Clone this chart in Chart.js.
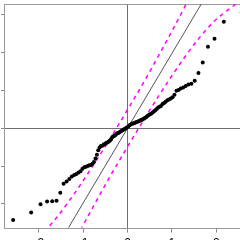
<!DOCTYPE html>
<html>
<head>
<meta charset="utf-8">
<script src="https://cdn.jsdelivr.net/npm/chart.js@4.4.0/dist/chart.umd.min.js"></script>
<style>
  html, body { margin: 0; padding: 0; width: 240px; height: 240px; overflow: hidden; background: #fff; }
  canvas { display: block; }
</style>
</head>
<body>
<canvas id="qq-chart" width="255" height="255"></canvas>
<script>
// normal quantiles (x) and sorted sample (y)
const theoretical = [
  -2.576, -2.170, -1.960, -1.812, -1.695, -1.598, -1.514, -1.440, -1.372, -1.311,
  -1.254, -1.200, -1.150, -1.103, -1.058, -1.015, -0.974, -0.935, -0.896, -0.860,
  -0.824, -0.789, -0.755, -0.722, -0.690, -0.659, -0.628, -0.598, -0.568, -0.539,
  -0.510, -0.482, -0.454, -0.426, -0.399, -0.372, -0.345, -0.319, -0.292, -0.266,
  -0.240, -0.215, -0.189, -0.164, -0.138, -0.113, -0.088, -0.063, -0.038, -0.013,
  0.013, 0.038, 0.063, 0.088, 0.113, 0.138, 0.164, 0.189, 0.215, 0.240,
  0.266, 0.292, 0.319, 0.345, 0.372, 0.399, 0.426, 0.454, 0.482, 0.510,
  0.539, 0.568, 0.598, 0.628, 0.659, 0.690, 0.722, 0.755, 0.789, 0.824,
  0.860, 0.896, 0.935, 0.974, 1.015, 1.058, 1.103, 1.150, 1.200, 1.254,
  1.311, 1.372, 1.440, 1.514, 1.598, 1.695, 1.812, 1.960, 2.170, 2.576,
];
const sample = [
  -2.43, -2.23, -2.01, -1.94, -1.93, -1.92, -1.71, -1.47, -1.41, -1.34,
  -1.28, -1.24, -1.21, -1.17, -1.14, -1.07, -1.03, -1.02, -1.0, -0.98,
  -0.97, -0.94, -0.89, -0.8, -0.7, -0.58, -0.51, -0.47, -0.46, -0.43,
  -0.42, -0.39, -0.38, -0.36, -0.33, -0.3, -0.24, -0.21, -0.2, -0.17,
  -0.14, -0.13, -0.11, -0.09, -0.07, -0.05, -0.03, -0.02, 0.0, 0.02,
  0.04, 0.07, 0.09, 0.11, 0.12, 0.13, 0.14, 0.16, 0.17, 0.18,
  0.19, 0.21, 0.22, 0.24, 0.26, 0.28, 0.3, 0.33, 0.35, 0.37,
  0.39, 0.42, 0.45, 0.48, 0.51, 0.55, 0.57, 0.59, 0.64, 0.67,
  0.7, 0.74, 0.76, 0.79, 0.82, 0.89, 0.99, 1.01, 1.05, 1.08,
  1.12, 1.16, 1.18, 1.26, 1.46, 1.74, 2.16, 2.37, 2.82, 3.07,
];

// confidence envelope
const bandX = [-2.576, -2.17, -1.96, -1.6, -1.3, -1.0, -0.7, -0.4, 0, 0.4, 0.7, 1.0, 1.3, 1.6, 1.96, 2.17, 2.576];
const bandUpper = [-3.4, -3.05, -2.84, -2.37, -1.9, -1.39, -0.85, -0.29, 0.49, 1.29, 1.92, 2.57, 3.24, 3.97, 4.92, 5.54, 6.99];
const bandLower = [-6.99, -5.54, -4.92, -3.97, -3.24, -2.57, -1.92, -1.29, -0.49, 0.29, 0.85, 1.39, 1.9, 2.37, 2.84, 3.05, 3.4];

// reference line
const refIntercept = 0;
const refSlope = 1.98;

const xTickValues = [-2, -1, 0, 1, 2];
const xTickLabels = ["-2", "-1", "0", "1", "2"];
const yTickValues = [-2, -1, 0, 1, 2, 3];

const toPoints = (xs, ys) => xs.map((x, i) => ({ x, y: ys[i] }));
const zeroOnly = (ctx) => (ctx.tick && ctx.tick.value === 0 ? "#6e6e6e" : "rgba(0,0,0,0)");

// box around the plot region
const frame = {
  id: "frame",
  beforeDatasetsDraw(chart) {
    const { ctx, chartArea: a } = chart;
    ctx.save();
    ctx.strokeStyle = "#9a9a9a";
    ctx.lineWidth = 1;
    ctx.strokeRect(Math.round(a.left) + 0.5, Math.round(a.top) + 0.5,
      Math.round(a.right - a.left), Math.round(a.bottom - a.top));
    ctx.restore();
  },
};

const dashed = {
  showLine: true,
  borderColor: "#ff00ff",
  borderWidth: 1.5,
  borderDash: [4, 4],
  pointRadius: 0,
  cubicInterpolationMode: "monotone",
  order: 2,
};

new Chart(document.getElementById("qq-chart"), {
  type: "scatter",
  data: {
    datasets: [
      {
        label: "sample",
        data: toPoints(theoretical, sample),
        backgroundColor: "#000",
        borderWidth: 0,
        pointRadius: 2,
        order: 0,
      },
      {
        label: "line",
        data: [-3, 3].map((x) => ({ x, y: refIntercept + refSlope * x })),
        showLine: true,
        borderColor: "#555",
        borderWidth: 1,
        pointRadius: 0,
        order: 1,
      },
      { label: "upper", data: toPoints(bandX, bandUpper), ...dashed },
      { label: "lower", data: toPoints(bandX, bandLower), ...dashed },
    ],
  },
  options: {
    responsive: false,
    animation: false,
    layout: { padding: { left: 0, right: 0, top: 2, bottom: 0 } },
    plugins: {
      legend: { display: false },
      tooltip: { enabled: false },
    },
    scales: {
      x: {
        type: "linear",
        min: -2.782,
        max: 2.782,
        afterBuildTicks: (scale) => {
          scale.ticks = xTickValues.map((value) => ({ value }));
        },
        border: { display: false },
        grid: { color: zeroOnly, tickColor: "#8a8a8a", tickLength: 5, lineWidth: 1 },
        ticks: {
          color: "#000",
          padding: 4,
          maxRotation: 0,
          callback: (value) => xTickLabels[xTickValues.indexOf(value)],
          font: { family: "'Liberation Sans', Arial, sans-serif", size: 12 },
        },
      },
      y: {
        type: "linear",
        min: -2.63,
        max: 3.29,
        afterBuildTicks: (scale) => {
          scale.ticks = yTickValues.map((value) => ({ value }));
        },
        border: { display: false },
        grid: { color: zeroOnly, tickColor: "#8a8a8a", tickLength: 3, lineWidth: 1 },
        ticks: { display: false },
      },
    },
  },
  plugins: [frame],
});
</script>
</body>
</html>
